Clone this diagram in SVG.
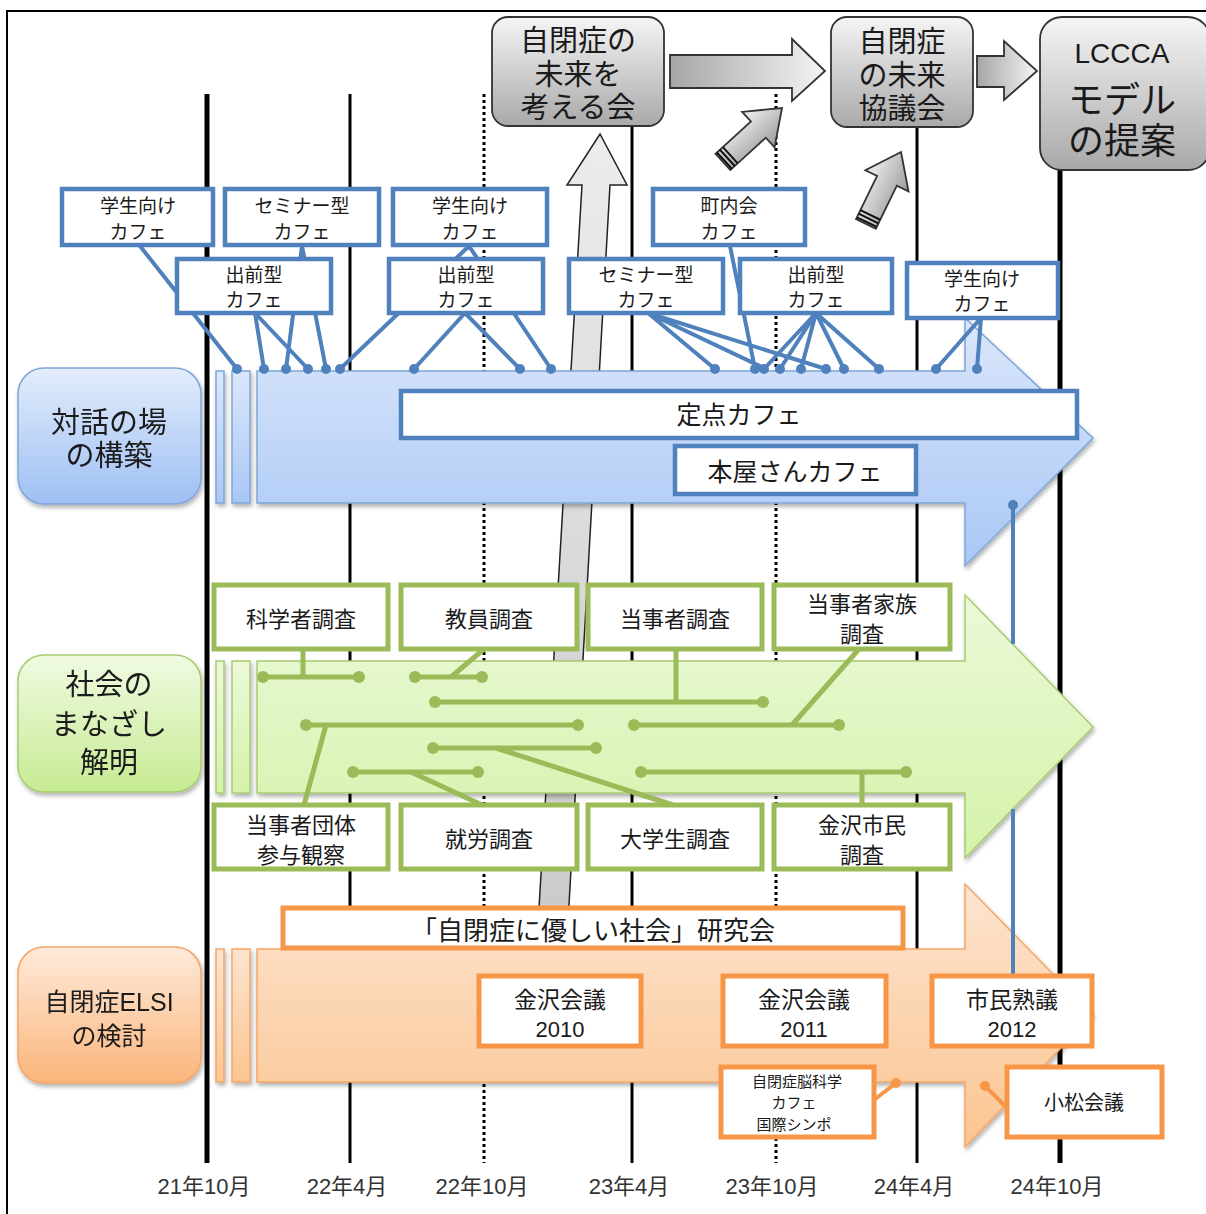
<svg xmlns="http://www.w3.org/2000/svg" width="1206" height="1214" viewBox="0 0 1206 1214">
<style>
text{font-family:"Liberation Sans","Noto Sans CJK JP",sans-serif;fill:#1a1a1a;text-anchor:middle;dominant-baseline:central;transform:translate(0px,2px)}
.tl{stroke:#000;fill:none}
.dot{stroke-dasharray:3 3}
.bbox{fill:#fff;stroke:#4f81bd;stroke-width:4.5}
.gbox{fill:#fff;stroke:#9bbb59;stroke-width:5}
.obox{fill:#fff;stroke:#f79646;stroke-width:5}
.bl{stroke:#4f81bd;stroke-width:4;fill:none}
.gl{stroke:#9bbb59;stroke-width:5;fill:none}
.ol{stroke:#f79646;stroke-width:4;fill:none}
.bd{fill:#4f81bd}
.gd{fill:#9bbb59}
.od{fill:#f79646}
.gray{stroke:#333;stroke-width:1.8}
.t19{font-size:19px}
.t22{font-size:22px}
.t25{font-size:25px}
.t29{font-size:29px}
.date{font-size:22px;fill:#333}
</style>
<defs>
<linearGradient id="gBox" x1="0" y1="0" x2="0" y2="1"><stop offset="0" stop-color="#f5f5f5"/><stop offset="1" stop-color="#a9a9a9"/></linearGradient>
<linearGradient id="gH" x1="0" y1="0" x2="1" y2="0"><stop offset="0" stop-color="#a6a6a6"/><stop offset="1" stop-color="#f4f4f4"/></linearGradient>
<linearGradient id="gD" x1="0" y1="0" x2="1" y2="0"><stop offset="0" stop-color="#f2f2f2"/><stop offset="1" stop-color="#9a9a9a"/></linearGradient>
<linearGradient id="gV" x1="0" y1="0" x2="0" y2="1"><stop offset="0" stop-color="#ececec"/><stop offset="1" stop-color="#c8c8c8"/></linearGradient>
<linearGradient id="blueA" x1="0" y1="0" x2="0" y2="1"><stop offset="0" stop-color="#dbe7fb"/><stop offset="1" stop-color="#a9c7f5"/></linearGradient>
<linearGradient id="blueL" x1="0" y1="0" x2="0" y2="1"><stop offset="0" stop-color="#e3edfc"/><stop offset="1" stop-color="#9ebff3"/></linearGradient>
<linearGradient id="greenA" x1="0" y1="0" x2="0" y2="1"><stop offset="0" stop-color="#ecf9d9"/><stop offset="1" stop-color="#d4f2a9"/></linearGradient>
<linearGradient id="greenL" x1="0" y1="0" x2="0" y2="1"><stop offset="0" stop-color="#f0fae2"/><stop offset="1" stop-color="#c7eb93"/></linearGradient>
<linearGradient id="orangeA" x1="0" y1="0" x2="0" y2="1"><stop offset="0" stop-color="#fde4d0"/><stop offset="1" stop-color="#fbc591"/></linearGradient>
<linearGradient id="orangeL" x1="0" y1="0" x2="0" y2="1"><stop offset="0" stop-color="#feeadb"/><stop offset="1" stop-color="#fbb57a"/></linearGradient>
<filter id="sh" x="-10%" y="-10%" width="130%" height="130%"><feDropShadow dx="1.5" dy="3" stdDeviation="2" flood-color="#000" flood-opacity="0.3"/></filter>
<g id="diag">
<path d="M0,0 L24,32 L11,32 L11,80 L-11,80 L-11,32 L-24,32 Z" fill="url(#gD)" class="gray"/>
<path d="M-11,70 H11 M-11,74 H11 M-11,78 H11" stroke="#111" stroke-width="2"/>
</g>
</defs>

<rect x="7" y="11" width="1212" height="1212" fill="#fff" stroke="#000" stroke-width="2"/>

<g id="timeline">
<line class="tl" x1="207" y1="94" x2="207" y2="1163" stroke-width="5"/>
<line class="tl" x1="350" y1="94" x2="350" y2="1163" stroke-width="3"/>
<line class="tl dot" x1="484" y1="94" x2="484" y2="1163" stroke-width="3"/>
<line class="tl" x1="632" y1="126" x2="632" y2="1163" stroke-width="3"/>
<line class="tl dot" x1="776" y1="94" x2="776" y2="1163" stroke-width="3"/>
<line class="tl" x1="917" y1="127" x2="917" y2="1163" stroke-width="3"/>
<line class="tl" x1="1060" y1="170" x2="1060" y2="1163" stroke-width="5"/>
<text class="date" x="204" y="1184">21年10月</text>
<text class="date" x="347" y="1184">22年4月</text>
<text class="date" x="482" y="1184">22年10月</text>
<text class="date" x="629" y="1184">23年4月</text>
<text class="date" x="772" y="1184">23年10月</text>
<text class="date" x="914" y="1184">24年4月</text>
<text class="date" x="1057" y="1184">24年10月</text>
</g>

<g id="flow-arrows">
<polygon points="535,975 565,975 610,185 627,185 600,134 567,185 582,185" fill="url(#gV)" stroke="#222" stroke-width="1.5"/>
<polygon points="670,55 792,55 792,39 825,71 792,101 792,88 670,88" fill="url(#gH)" class="gray"/>
<polygon points="977,56 1004,56 1004,41 1037,71 1004,100 1004,87 977,87" fill="url(#gH)" class="gray"/>
<use href="#diag" transform="translate(782,108) rotate(47.6)"/>
<use href="#diag" transform="translate(901,152) rotate(26)"/>
</g>

<g id="node-kangaerukai">
<rect x="492" y="17" width="172" height="109" rx="16" fill="url(#gBox)" class="gray"/>
<text class="t29" x="578" y="39"><tspan x="578">自閉症の</tspan><tspan x="578" dy="34">未来を</tspan><tspan x="578" dy="33">考える会</tspan></text>
</g>
<g id="node-kyougikai">
<rect x="831" y="17" width="142" height="110" rx="16" fill="url(#gBox)" class="gray"/>
<text class="t29" x="902" y="40"><tspan x="902">自閉症</tspan><tspan x="902" dy="34">の未来</tspan><tspan x="902" dy="33">協議会</tspan></text>
</g>
<g id="node-lccca">
<rect x="1040" y="17" width="170" height="153" rx="22" fill="url(#gBox)" class="gray"/>
<text x="1122" y="51" style="font-size:28px"><tspan x="1122">LCCCA</tspan><tspan x="1122" dy="47" style="font-size:36px">モデル</tspan><tspan x="1122" dy="41" style="font-size:36px">の提案</tspan></text>
</g>

<g id="node-taiwa" filter="url(#sh)">
<rect x="18" y="368" width="183" height="136" rx="26" fill="url(#blueL)" stroke="#7ea6d8" stroke-width="1.5"/>
<text class="t29" x="109" y="421"><tspan x="109">対話の場</tspan><tspan x="109" dy="33">の構築</tspan></text>
</g>
<g id="arrow-blue" filter="url(#sh)">
<rect x="216" y="371" width="8" height="132" fill="url(#blueA)" stroke="#7ea6d8" stroke-width="1.5"/>
<rect x="232" y="371" width="18" height="132" fill="url(#blueA)" stroke="#7ea6d8" stroke-width="1.5"/>
<polygon points="257,371 965,371 965,318 1093,438 965,566 965,503 257,503" fill="url(#blueA)" stroke="#7ea6d8" stroke-width="1.5"/>
</g>

<g id="node-manazashi" filter="url(#sh)">
<rect x="18" y="655" width="183" height="137" rx="26" fill="url(#greenL)" stroke="#a8cc70" stroke-width="1.5"/>
<text class="t29" x="109" y="683"><tspan x="109">社会の</tspan><tspan x="109" dy="40">まなざし</tspan><tspan x="109" dy="38">解明</tspan></text>
</g>
<g id="arrow-green" filter="url(#sh)">
<rect x="216" y="661" width="8" height="132" fill="url(#greenA)" stroke="#a8cc70" stroke-width="1.5"/>
<rect x="232" y="661" width="18" height="132" fill="url(#greenA)" stroke="#a8cc70" stroke-width="1.5"/>
<polygon points="257,661 965,661 965,595 1093,727 965,858 965,793 257,793" fill="url(#greenA)" stroke="#a8cc70" stroke-width="1.5"/>
</g>

<g id="node-elsi" filter="url(#sh)">
<rect x="18" y="947" width="183" height="136" rx="26" fill="url(#orangeL)" stroke="#f5a566" stroke-width="1.5"/>
<text x="109" y="1000" style="font-size:25px"><tspan x="109">自閉症ELSI</tspan><tspan x="109" dy="34">の検討</tspan></text>
</g>
<g id="arrow-orange" filter="url(#sh)">
<rect x="216" y="949" width="8" height="133" fill="url(#orangeA)" stroke="#f5a566" stroke-width="1.5"/>
<rect x="232" y="949" width="18" height="133" fill="url(#orangeA)" stroke="#f5a566" stroke-width="1.5"/>
<polygon points="257,949 965,949 965,884 1093,1015 965,1147 965,1082 257,1082" fill="url(#orangeA)" stroke="#f5a566" stroke-width="1.5"/>
</g>

<g id="connectors">
<path class="bl" d="M140,246 L237,369 M302,246 L286,369 M302,246 L326,369 M255,313 L264,369 M255,313 L308,369 M469,246 L340,369 M469,246 L551,369 M465,313 L414,369 M465,313 L520,369 M648,313 L715,369 M648,313 L766,369 M648,313 L826,369 M730,246 L755,369 M816,313 L764,369 M816,313 L780,369 M816,313 L801,369 M816,313 L844,369 M816,313 L879,369 M981,318 L936,369 M981,318 L977,369"/>
<g class="bd">
<circle cx="237" cy="369" r="5"/><circle cx="264" cy="369" r="5"/><circle cx="286" cy="369" r="5"/><circle cx="308" cy="369" r="5"/><circle cx="326" cy="369" r="5"/><circle cx="340" cy="369" r="5"/><circle cx="414" cy="369" r="5"/><circle cx="520" cy="369" r="5"/><circle cx="551" cy="369" r="5"/><circle cx="715" cy="369" r="5"/><circle cx="755" cy="369" r="5"/><circle cx="764" cy="369" r="5"/><circle cx="780" cy="369" r="5"/><circle cx="801" cy="369" r="5"/><circle cx="826" cy="369" r="5"/><circle cx="844" cy="369" r="5"/><circle cx="879" cy="369" r="5"/><circle cx="936" cy="369" r="5"/><circle cx="977" cy="369" r="5"/>
<circle cx="1013" cy="505" r="5"/>
</g>
<path class="bl" stroke-width="3.5" d="M1013,505 V644 M1013,809 V977"/>

<path class="gl" d="M263,677 H359 M415,677 H482 M435,702 H763 M306,725 H578 M634,725 H839 M433,748 H596 M353,772 H478 M641,772 H906"/>
<path class="gl" stroke-width="4" d="M303,649 V677 M484,649 L451,677 M676,649 V702 M326,725 L304,805 M792,725 L859,649 M496,748 L673,805 M411,772 L482,805 M862,772 V805"/>
<g class="gd">
<circle cx="263" cy="677" r="6"/><circle cx="359" cy="677" r="6"/><circle cx="415" cy="677" r="6"/><circle cx="482" cy="677" r="6"/>
<circle cx="435" cy="702" r="6"/><circle cx="763" cy="702" r="6"/>
<circle cx="306" cy="725" r="6"/><circle cx="578" cy="725" r="6"/><circle cx="634" cy="725" r="6"/><circle cx="839" cy="725" r="6"/>
<circle cx="433" cy="748" r="6"/><circle cx="596" cy="748" r="6"/>
<circle cx="353" cy="772" r="6"/><circle cx="478" cy="772" r="6"/><circle cx="641" cy="772" r="6"/><circle cx="906" cy="772" r="6"/>
</g>

<path class="ol" d="M874,1100 L896,1083 M1007,1108 L985,1086"/>
<circle class="od" cx="896" cy="1083" r="5"/>
<circle class="od" cx="985" cy="1086" r="5"/>
</g>

<g id="node-cafe1"><rect class="bbox" x="62" y="189" width="151" height="56"/><text class="t19" x="138" y="204"><tspan x="138">学生向け</tspan><tspan x="138" dy="26">カフェ</tspan></text></g>
<g id="node-cafe2"><rect class="bbox" x="225" y="189" width="154" height="56"/><text class="t19" x="302" y="204"><tspan x="302">セミナー型</tspan><tspan x="302" dy="26">カフェ</tspan></text></g>
<g id="node-cafe3"><rect class="bbox" x="393" y="189" width="154" height="56"/><text class="t19" x="470" y="204"><tspan x="470">学生向け</tspan><tspan x="470" dy="26">カフェ</tspan></text></g>
<g id="node-cafe4"><rect class="bbox" x="653" y="189" width="152" height="56"/><text class="t19" x="729" y="204"><tspan x="729">町内会</tspan><tspan x="729" dy="26">カフェ</tspan></text></g>
<g id="node-cafe5"><rect class="bbox" x="177" y="259" width="154" height="54"/><text class="t19" x="254" y="273"><tspan x="254">出前型</tspan><tspan x="254" dy="25">カフェ</tspan></text></g>
<g id="node-cafe6"><rect class="bbox" x="389" y="259" width="154" height="54"/><text class="t19" x="466" y="273"><tspan x="466">出前型</tspan><tspan x="466" dy="25">カフェ</tspan></text></g>
<g id="node-cafe7"><rect class="bbox" x="569" y="259" width="154" height="54"/><text class="t19" x="646" y="273"><tspan x="646">セミナー型</tspan><tspan x="646" dy="25">カフェ</tspan></text></g>
<g id="node-cafe8"><rect class="bbox" x="740" y="259" width="152" height="54"/><text class="t19" x="816" y="273"><tspan x="816">出前型</tspan><tspan x="816" dy="25">カフェ</tspan></text></g>
<g id="node-cafe9"><rect class="bbox" x="907" y="263" width="151" height="55"/><text class="t19" x="982" y="277"><tspan x="982">学生向け</tspan><tspan x="982" dy="25">カフェ</tspan></text></g>

<g id="node-teiten"><rect class="bbox" x="401" y="391" width="676" height="47"/><text class="t25" x="739" y="413">定点カフェ</text></g>
<g id="node-honya"><rect class="bbox" x="675" y="446" width="241" height="48"/><text class="t25" x="795" y="470">本屋さんカフェ</text></g>

<g id="node-kagakusha"><rect class="gbox" x="214" y="585" width="174" height="64"/><text class="t22" x="301" y="617">科学者調査</text></g>
<g id="node-kyouin"><rect class="gbox" x="401" y="585" width="176" height="64"/><text class="t22" x="489" y="617">教員調査</text></g>
<g id="node-toujisha"><rect class="gbox" x="588" y="585" width="174" height="64"/><text class="t22" x="675" y="617">当事者調査</text></g>
<g id="node-kazoku"><rect class="gbox" x="774" y="585" width="176" height="64"/><text class="t22" x="862" y="602"><tspan x="862">当事者家族</tspan><tspan x="862" dy="30">調査</tspan></text></g>
<g id="node-dantai"><rect class="gbox" x="214" y="805" width="174" height="64"/><text class="t22" x="301" y="823"><tspan x="301">当事者団体</tspan><tspan x="301" dy="30">参与観察</tspan></text></g>
<g id="node-shurou"><rect class="gbox" x="401" y="805" width="176" height="64"/><text class="t22" x="489" y="837">就労調査</text></g>
<g id="node-daigakusei"><rect class="gbox" x="588" y="805" width="174" height="64"/><text class="t22" x="675" y="837">大学生調査</text></g>
<g id="node-shimin"><rect class="gbox" x="774" y="805" width="176" height="64"/><text class="t22" x="862" y="823"><tspan x="862">金沢市民</tspan><tspan x="862" dy="30">調査</tspan></text></g>

<g id="node-kenkyukai"><rect class="obox" x="283" y="908" width="620" height="40"/><text x="593" y="929" style="font-size:26px">「自閉症に優しい社会」研究会</text></g>
<g id="node-kanazawa2010"><rect class="obox" x="479" y="976" width="162" height="70"/><text x="560" y="998" style="font-size:23px"><tspan x="560">金沢会議</tspan><tspan x="560" dy="29" style="font-size:22px">2010</tspan></text></g>
<g id="node-kanazawa2011"><rect class="obox" x="723" y="976" width="163" height="70"/><text x="804" y="998" style="font-size:23px"><tspan x="804">金沢会議</tspan><tspan x="804" dy="29" style="font-size:22px">2011</tspan></text></g>
<g id="node-jukugi"><rect class="obox" x="932" y="976" width="160" height="70"/><text x="1012" y="998" style="font-size:23px"><tspan x="1012">市民熟議</tspan><tspan x="1012" dy="29" style="font-size:22px">2012</tspan></text></g>
<g id="node-nou"><rect class="obox" x="721" y="1067" width="153" height="70"/><text x="797" y="1079" style="font-size:15px"><tspan x="797">自閉症脳科学</tspan><tspan x="794" dy="21">カフェ</tspan><tspan x="794" dy="22">国際シンポ</tspan></text></g>
<g id="node-komatsu"><rect class="obox" x="1007" y="1067" width="155" height="70"/><text x="1084" y="1101" style="font-size:20px">小松会議</text></g>
</svg>
